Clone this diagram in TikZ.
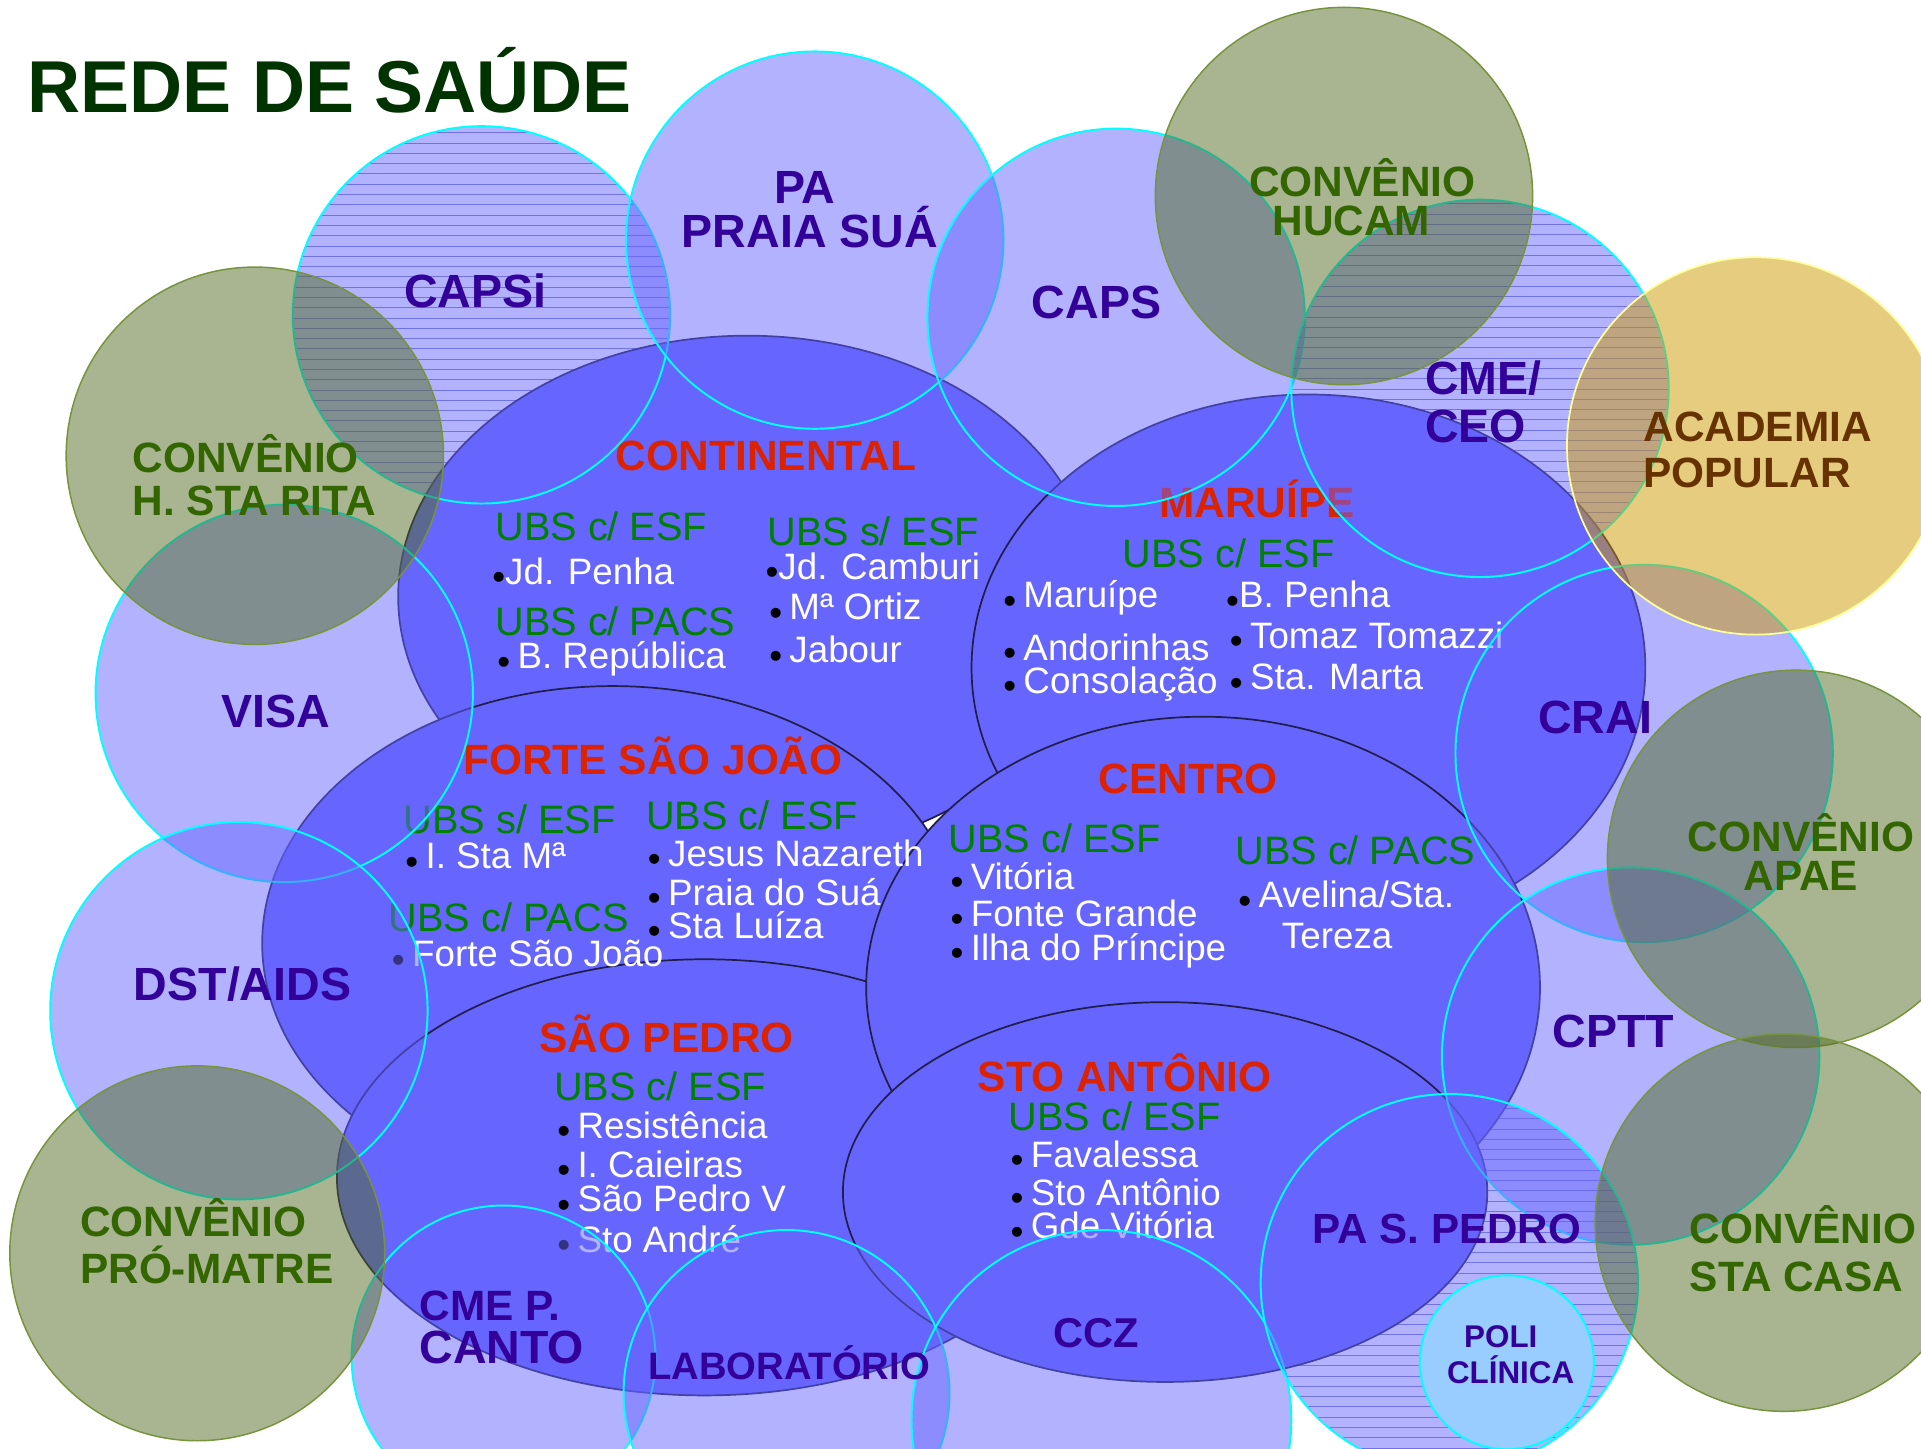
\documentclass[tikz,border=0pt]{standalone}
\usepackage{fontspec}
\setmainfont{Liberation Sans}
\usepackage{tikz}

\definecolor{distfill}{HTML}{6666FF}
\definecolor{distline}{HTML}{1F1F4A}
\definecolor{ring}{HTML}{00FFFF}
\definecolor{convfill}{HTML}{516B21}
\definecolor{convline}{HTML}{77933C}
\definecolor{acadfill}{HTML}{CC9900}
\definecolor{acadline}{HTML}{FFFF99}
\definecolor{polifill}{HTML}{99CCFF}
\definecolor{stripecol}{HTML}{8080D0}
\definecolor{titlegreen}{HTML}{003300}
\definecolor{unitblue}{HTML}{330099}
\definecolor{convtext}{HTML}{336600}
\definecolor{acadtext}{HTML}{663300}
\definecolor{distred}{HTML}{DD2200}
\definecolor{ubsgreen}{HTML}{008000}

\newcommand{\bul}{\llap{\raisebox{-2.2pt}{\textcolor{black}{•}}\hspace{3pt}}}
\newcommand{\bult}{\llap{\raisebox{-2.2pt}{\textcolor{black}{•}}}}

\begin{document}
\begin{tikzpicture}[x=0.5pt,y=-0.5pt,
  district/.style={fill=distfill,draw=distline,line width=0.7pt},
  service/.style={fill=distfill,fill opacity=0.5,draw=ring,line width=0.8pt},
  convenio/.style={fill=convfill,fill opacity=0.5,draw=convline,line width=0.6pt},
  stripeline/.style={draw=stripecol,line width=0.4pt},
  titlelbl/.style={font=\fontsize{30}{30}\selectfont\bfseries,text=titlegreen,anchor=base west,inner sep=0},
  unitlbl/.style={font=\fontsize{19}{19}\selectfont\bfseries,text=unitblue,anchor=base,inner sep=0},
  convlbl/.style={font=\fontsize{17.3}{17}\selectfont\bfseries,text=convtext,anchor=base west,inner sep=0},
  distlbl/.style={font=\fontsize{17.3}{17}\selectfont\bfseries,text=distred,anchor=base,inner sep=0},
  ubs/.style={font=\fontsize{16.2}{16}\selectfont,text=ubsgreen,anchor=base west,inner sep=0},
  item/.style={font=\fontsize{15}{15}\selectfont,text=white,anchor=base west,inner sep=0}]

\clip (0,0) rectangle (1568,1182);

\begin{scope}
\clip (393,257) circle (154);
\foreach \y in {100,108.4,...,420} \draw[stripeline] (230,\y) -- (560,\y);
\end{scope}
\begin{scope}
\clip (1208,317) circle (154);
\foreach \y in {158,166.4,...,480} \draw[stripeline] (1040,\y) -- (1370,\y);
\end{scope}
\begin{scope}
\clip (1183,1047) circle (154);
\foreach \y in {888,896.4,...,1190} \draw[stripeline] (1020,\y) -- (1350,\y);
\end{scope}

\draw[district] (610,487) ellipse (285 and 213);
\draw[district] (1068,545) ellipse (275 and 223);
\draw[district] (500,770) ellipse (286 and 210);
\draw[district] (575,961) ellipse (300 and 178);
\draw[district] (982,806) ellipse (275 and 221);
\draw[district] (951,973) ellipse (263 and 155);

\node[distlbl] (continental) at (625,384) {CONTINENTAL};
\node[ubs] (contesf) at (404,441) {UBS c/ ESF};
\node[item] (jdpenha) at (412,477) {\bult Jd. Penha};
\node[ubs] (contpacs) at (404,519) {UBS c/ PACS};
\node[item] (republica) at (422,546) {\bul B. República};
\node[ubs] (contsesf) at (626,445) {UBS s/ ESF};
\node[item] (camburi) at (635,473) {\bult Jd. Camburi};
\node[item] (ortiz) at (644,506) {\bul Mª Ortiz};
\node[item] (jabour) at (644,541) {\bul Jabour};

\node[distlbl] (maruipe) at (1026,422) {MARUÍPE};
\node[ubs] (maresf) at (916,463) {UBS c/ ESF};
\node[item] (maru) at (835,496) {\bul Maruípe};
\node[item] (andorinhas) at (835,539) {\bul Andorinhas};
\node[item] (consolacao) at (835,566) {\bul Consolação};
\node[item] (bpenha) at (1011,496) {\bult B. Penha};
\node[item] (tomazzi) at (1020,529) {\bul Tomaz Tomazzi};
\node[item] (marta) at (1020,563) {\bul Sta. Marta};

\node[distlbl] (forte) at (533,632) {FORTE SÃO JOÃO};
\node[ubs] (fortesesf) at (329,680) {UBS s/ ESF};
\node[item] (stama) at (347,709) {\bul I. Sta Mª};
\node[ubs] (fortepacs) at (317,760) {UBS c/ PACS};
\node[item] (fortesj) at (336,789) {\bul Forte São João};
\node[ubs] (forteesf) at (527,677) {UBS c/ ESF};
\node[item] (nazareth) at (545,707) {\bul Jesus Nazareth};
\node[item] (praiasua) at (545,739) {\bul Praia do Suá};
\node[item] (luiza) at (545,766) {\bul Sta Luíza};

\node[distlbl] (saopedro) at (544,859) {SÃO PEDRO};
\node[ubs] (spesf) at (452,898) {UBS c/ ESF};
\node[item] (resistencia) at (471,929) {\bul Resistência};
\node[item] (caieiras) at (471,961) {\bul I. Caieiras};
\node[item] (spv) at (471,989) {\bul São Pedro V};
\node[item] (andre) at (471,1022) {\bul Sto André};

\node[distlbl] (centro) at (970,648) {CENTRO};
\node[ubs] (centesf) at (774,696) {UBS c/ ESF};
\node[item] (vitoria) at (792,726) {\bul Vitória};
\node[item] (fontegrande) at (792,756) {\bul Fonte Grande};
\node[item] (principe) at (792,784) {\bul Ilha do Príncipe};
\node[ubs] (centpacs) at (1008,706) {UBS c/ PACS};
\node[item] (avelina) at (1027,741) {\bul Avelina/Sta.};
\node[item] (tereza) at (1046,774) {Tereza};

\node[distlbl] (stoantonio) at (918,891) {STO ANTÔNIO};
\node[ubs] (saesf) at (823,923) {UBS c/ ESF};
\node[item] (favalessa) at (841,953) {\bul Favalessa};
\node[item] (santonio) at (841,984) {\bul Sto Antônio};
\node[item] (gdevitoria) at (841,1011) {\bul Gde Vitória};

\draw[service] (393,257) circle (154);
\draw[service] (665,196) circle (154);
\draw[service] (911,259) circle (154);
\draw[service] (1208,317) circle (154);
\draw[service] (232,566) circle (154);
\draw[service] (1342,615) circle (154);
\draw[service] (195,825) circle (154);
\draw[service] (1331,862) circle (154);
\draw[service] (411,1108) circle (124);
\draw[service] (642,1137) circle (133);
\draw[service] (899,1159) circle (155);
\draw[service] (1183,1047) circle (154);
\draw[fill=polifill,draw=ring,line width=0.8pt] (1230,1112) circle (71);

\draw[convenio] (1097,160) circle (154);
\draw[convenio] (208,372) circle (154);
\draw[convenio] (1466,701) circle (154);
\draw[convenio] (161,1023) circle (153);
\draw[convenio] (1456,998) circle (154);
\draw[fill=acadfill,fill opacity=0.5,draw=acadline,line width=0.7pt] (1433,364) circle (154);

\node[titlelbl] (title) at (22,92) {REDE DE SAÚDE};

\node[unitlbl] (capsi) at (388,251) {CAPSi};
\node[unitlbl] (pa) at (657,166) {PA};
\node[unitlbl] (praiasuapa) at (661,202) {PRAIA SUÁ};
\node[unitlbl] (caps) at (895,260) {CAPS};
\node[unitlbl,anchor=base west] (cme) at (1163,322) {CME/};
\node[unitlbl,anchor=base west] (ceo) at (1163,361) {CEO};
\node[unitlbl] (visa) at (225,594) {VISA};
\node[unitlbl] (crai) at (1302,599) {CRAI};
\node[unitlbl] (dst) at (198,817) {DST/AIDS};
\node[unitlbl] (cptt) at (1317,855) {CPTT};
\node[unitlbl,font=\fontsize{17.3}{17}\selectfont\bfseries,anchor=base west] (cmep) at (342,1078) {CME P.};
\node[unitlbl,anchor=base west] (canto) at (342,1113) {CANTO};
\node[unitlbl,font=\fontsize{15.6}{16}\selectfont\bfseries] (lab) at (644,1126) {LABORATÓRIO};
\node[unitlbl,font=\fontsize{17}{17}\selectfont\bfseries] (ccz) at (895,1100) {CCZ};
\node[unitlbl,font=\fontsize{17.2}{17}\selectfont\bfseries] (paspedro) at (1181,1015) {PA S. PEDRO};
\node[unitlbl,font=\fontsize{12.8}{13}\selectfont\bfseries] (poli) at (1225,1100) {POLI};
\node[unitlbl,font=\fontsize{12.8}{13}\selectfont\bfseries] (clinica) at (1233,1129) {CLÍNICA};

\node[convlbl,anchor=base] (hucam1) at (1112,160) {CONVÊNIO};
\node[convlbl,anchor=base] (hucam2) at (1103,192) {HUCAM};
\node[convlbl] (rita1) at (108,386) {CONVÊNIO};
\node[convlbl] (rita2) at (108,421) {H. STA RITA};
\node[convlbl,anchor=base] (apae1) at (1470,695) {CONVÊNIO};
\node[convlbl,anchor=base] (apae2) at (1470,727) {APAE};
\node[convlbl] (matre1) at (65,1009) {CONVÊNIO};
\node[convlbl] (matre2) at (65,1048) {PRÓ-MATRE};
\node[convlbl] (casa1) at (1379,1015) {CONVÊNIO};
\node[convlbl] (casa2) at (1379,1054) {STA CASA};
\node[convlbl,text=acadtext] (acad1) at (1341,360) {ACADEMIA};
\node[convlbl,text=acadtext] (acad2) at (1341,398) {POPULAR};

\end{tikzpicture}
\end{document}
